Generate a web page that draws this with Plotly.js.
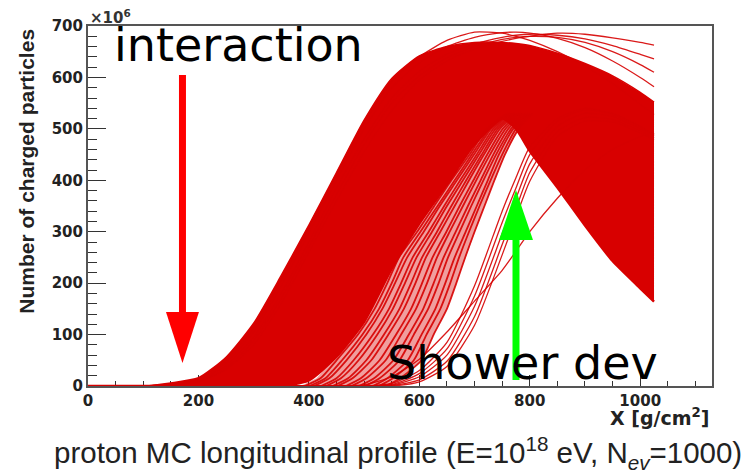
<!DOCTYPE html>
<html>
<head>
<meta charset="utf-8">
<script src="https://cdn.plot.ly/plotly-3.0.1.min.js"></script>
<style>html,body{margin:0;padding:0;background:#fff;}#chart{width:750px;height:474px;}</style>
</head>
<body>
<div id="chart"></div>
<script>
// Atmospheric depth grid (g/cm^2)
const depth = [0,50,100,150,200,250,300,350,400,450,500,550,600,650,700,750,775,800,850,900,950,1000,1025];

// Dense band of the 1000 showers (x10^6 particles): upper and lower envelopes
const bandUpper = [0,0,0,6,16,56,122,215,313,415,517,598,642,660,668,668,666,662,647,627,603,571,552];
const bandLower = [0,0,0,0,0,0,0,0,11,57,125,228,316,392,470,520,500,457,386,312,243,190,164];

// Streaky cluster of late showers: depth (g/cm^2) at which each reaches these sizes (x10^6)
const clusterLevels = [0,15,50,100,150,200,250,300,350,400,450,500,530];
const clusterEdgeX  = [385,414,443,482,512,536,558,591,622,655,688,720,756];
const cl01 = [392,421,450,489,519,542,563,596,627,658,691,722,758];
const cl02 = [401,430,460,497,527,550,571,602,633,664,695,727,761];
const cl03 = [409,437,468,504,533,556,578,608,637,668,699,730,764];
const cl04 = [422,450,481,516,545,567,588,617,645,674,704,734,767];
const cl05 = [431,458,490,524,552,574,595,623,650,679,708,738,771];
const cl06 = [443,471,504,536,564,585,605,632,658,685,713,742,774];
const cl07 = [452,479,513,544,572,593,612,638,664,690,717,746,778];
const cl08 = [467,494,528,558,585,605,624,649,673,698,723,751,781];
const cl09 = [477,504,539,567,594,614,632,655,679,703,728,756,785];
const cl10 = [491,518,553,581,607,626,644,666,688,711,734,761,789];
const cl11 = [502,528,564,590,616,635,652,673,694,716,739,766,793];
const cl12 = [516,542,579,604,629,647,664,684,704,724,744,770,797];
const cl13 = [527,552,590,613,638,656,672,690,709,729,750,775,801];
const clR  = [540,565,604,626,650,667,683,700,718,736,755,780,805];

// Showers crossing the notch (values on the depth grid)
const showerN1 = [0,0,0,0,0,0,0,0,0,0,0,5,30,85,195,340,405,465,520,540,530,505,490];
const showerN2 = [0,0,0,0,0,0,0,0,0,0,0,3,24,72,175,318,385,450,515,537,528,503,488];
const showerN3 = [0,0,0,0,0,0,0,0,0,0,0,2,18,60,155,296,365,432,505,530,524,500,486];
const showerN4 = [0,0,0,0,0,0,0,0,0,0,0,1,12,48,135,275,345,415,495,522,518,496,482];
const showerN5 = [0,0,0,0,0,0,0,0,0,0,0,0,8,38,118,255,328,398,485,515,513,492,478];
const showerA  = [0,0,0,0,0,0,0,0,0,0,2,18,52,105,165,225,262,300,365,420,460,485,492];
// Top fringe showers
const showerF1 = [0,0,0,4,14,50,112,205,308,410,512,592,640,672,688,686,680,672,650,622,588,548,528];
const showerF2 = [0,0,0,2,8,32,80,160,260,360,455,535,595,632,655,670,676,680,686,684,677,668,663];
const showerF3 = [0,0,0,3,10,40,95,180,280,385,480,560,612,645,665,678,682,684,682,675,662,645,636];
const showerF4 = [0,0,0,3,12,45,105,195,298,400,500,580,628,660,678,687,688,686,676,658,632,600,582];
const showerF5 = [0,0,0,2,9,35,88,170,270,372,470,550,603,638,660,674,678,680,678,668,650,625,610];

const clusterCurves = [cl01,cl02,cl03,cl04,cl05,cl06,cl07,cl08,cl09,cl10,cl11,cl12,cl13,clR];
const gridCurves = [showerN1,showerN2,showerN3,showerN4,showerN5,showerA,
                    showerF1,showerF2,showerF3,showerF4,showerF5];

const xTickVals = [0,200,400,600,800,1000];
const yTickVals = [0,100,200,300,400,500,600,700];

const RED = '#d80000';
const LINE = {color: 'rgba(214,0,0,0.9)', width: 1.3, shape: 'spline', smoothing: 0.6};
const traces = [];
// translucent streak zone between the dense edge and the last cluster shower
traces.push({
  x: clR.concat(clusterEdgeX.slice().reverse()),
  y: clusterLevels.concat(clusterLevels.slice().reverse()),
  mode: 'lines', fill: 'toself', fillcolor: 'rgba(216,0,0,0.38)',
  line: {color: 'rgba(0,0,0,0)', width: 0}, hoverinfo: 'skip', showlegend: false
});
// dense band
traces.push({x: depth, y: bandLower, mode: 'lines', line: {color: RED, width: 2.5, shape: 'spline', smoothing: 0.6},
             hoverinfo: 'skip', showlegend: false});
traces.push({x: depth, y: bandUpper, mode: 'lines', fill: 'tonexty', fillcolor: RED,
             line: {color: RED, width: 1.5, shape: 'spline', smoothing: 0.6}, hoverinfo: 'skip', showlegend: false});
clusterCurves.forEach(function(c){
  traces.push({x: c, y: clusterLevels, mode: 'lines', line: {color: 'rgba(214,0,0,0.9)', width: 1.8, shape: 'spline', smoothing: 0.6},
               hoverinfo: 'skip', showlegend: false});
});
gridCurves.forEach(function(c){
  traces.push({x: depth, y: c, mode: 'lines', line: LINE, hoverinfo: 'skip', showlegend: false});
});

const tickFont = {family: 'DejaVu Sans', size: 15, color: '#222', weight: 'bold'};
const layout = {
  width: 750, height: 474,
  margin: {l: 88, r: 38, t: 26, b: 88},
  paper_bgcolor: '#fff', plot_bgcolor: '#fff',
  showlegend: false,
  xaxis: {
    range: [0, 1130], tickvals: xTickVals, ticktext: xTickVals.map(String),
    ticks: 'inside', ticklen: 11, tickwidth: 1, tickcolor: '#333',
    minor: {dtick: 50, tick0: 0, ticks: 'inside', ticklen: 5, tickwidth: 1, tickcolor: '#333'},
    showgrid: false, zeroline: false, showline: true, linecolor: '#555', linewidth: 2, mirror: true,
    tickfont: tickFont, layer: 'below traces', fixedrange: true
  },
  yaxis: {
    range: [0, 700], tickvals: yTickVals, ticktext: yTickVals.map(String),
    ticks: 'inside', ticklen: 18, tickwidth: 1, tickcolor: '#333',
    minor: {dtick: 20, tick0: 0, ticks: 'inside', ticklen: 9, tickwidth: 1, tickcolor: '#333'},
    showgrid: false, zeroline: false, showline: true, linecolor: '#555', linewidth: 2, mirror: true,
    tickfont: tickFont, layer: 'below traces', fixedrange: true
  },
  shapes: [
    {type: 'rect', xref: 'paper', yref: 'paper', x0: 0.1458, x1: 0.1570, y0: 0.2056, y1: 0.8639, fillcolor: '#ff0000', line: {width: 0}},
    {type: 'path', xref: 'paper', yref: 'paper', path: 'M 0.1250 0.2056 L 0.1778 0.2056 L 0.1514 0.0639 Z', fillcolor: '#ff0000', line: {width: 0}},
    {type: 'rect', xref: 'paper', yref: 'paper', x0: 0.6803, x1: 0.6915, y0: 0.0167, y1: 0.4056, fillcolor: '#00ff00', line: {width: 0}},
    {type: 'path', xref: 'paper', yref: 'paper', path: 'M 0.6587 0.4056 L 0.7131 0.4056 L 0.6859 0.5444 Z', fillcolor: '#00ff00', line: {width: 0}}
  ],
  annotations: [
    {text: '×10<sup>6</sup>', xref: 'paper', yref: 'paper', x: 0, y: 1, xanchor: 'left', yanchor: 'bottom', yshift: -3, showarrow: false,
     font: {family: 'DejaVu Sans', size: 15, color: '#333', weight: 'bold'}},
    {text: 'Number of charged particles', xref: 'paper', yref: 'paper', x: -0.1, y: 0.597, xanchor: 'center', yanchor: 'middle', textangle: -90, showarrow: false,
     font: {family: 'Liberation Sans', size: 21, color: '#222', weight: 'bold'}},
    {text: 'X [g/cm<sup>2</sup>]', xref: 'paper', yref: 'paper', x: 1, y: -0.086, xanchor: 'right', yanchor: 'middle', showarrow: false,
     font: {family: 'DejaVu Sans', size: 19, color: '#222', weight: 'bold'}},
    {text: 'proton MC longitudinal profile (E=10<sup>18</sup> eV, N<sub><i>ev</i></sub>=1000)', xref: 'paper', yref: 'paper', x: -0.0577, y: -0.185, xanchor: 'left', yanchor: 'middle', showarrow: false,
     font: {family: 'Liberation Sans', size: 29.5, color: '#222'}},
    {text: 'interaction', xref: 'paper', yref: 'paper', x: 0.0385, y: 0.947, xanchor: 'left', yanchor: 'middle', showarrow: false,
     font: {family: 'DejaVu Sans', size: 46, color: '#000'}},
    {text: 'Shower dev', xref: 'paper', yref: 'paper', x: 0.476, y: 0.065, xanchor: 'left', yanchor: 'middle', showarrow: false,
     font: {family: 'DejaVu Sans', size: 46, color: '#000'}}
  ]
};
Plotly.newPlot('chart', traces, layout, {staticPlot: true, displayModeBar: false});
</script>
</body>
</html>
